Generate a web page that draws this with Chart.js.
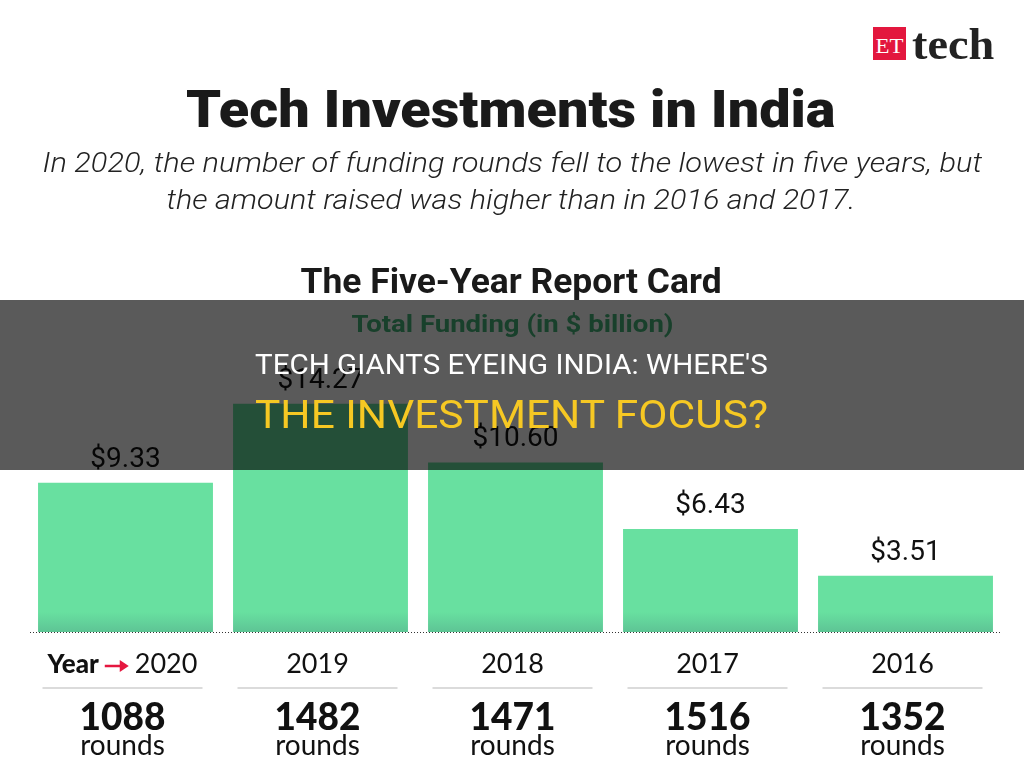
<!DOCTYPE html>
<html>
<head>
<meta charset="utf-8">
<script src="https://cdn.jsdelivr.net/npm/chart.js@4.4.1/dist/chart.umd.min.js"></script>
<style>
  html, body { margin: 0; padding: 0; background: #fff; }
  #page { position: relative; width: 1024px; height: 767px; overflow: hidden; background: #fff; }
  #grafico { position: absolute; left: 0; top: 0; }
  .txt { position: absolute; white-space: nowrap; line-height: 1; transform-origin: 50% 50%; }
  #band { position: absolute; left: 0; top: 300px; width: 1024px; height: 170px; background: rgba(0,0,0,0.647); z-index: 5; }
  .over { z-index: 6; }
  #logoBox { position: absolute; left: 873px; top: 27px; width: 33px; height: 33px; background: #e3173e; z-index: 2; }
</style>
</head>
<body>
<div id="page">
  <canvas id="grafico" width="1024" height="767"></canvas>

  <div id="logoBox"></div>
  <div class="txt" data-cx="889" data-w="28" data-base="53" data-asc="0.891" style="font: 22px 'Liberation Serif'; color:#fff; z-index:3;">ET</div>
  <div class="txt" data-cx="953" data-w="82" data-base="58" data-asc="0.891" style="font: bold 44px 'Liberation Serif'; color:#222; z-index:3;">tech</div>

  <div class="txt" data-cx="511" data-w="650" data-base="123" data-asc="0.842" style="font: 900 52px Roboto; color:#1a1a1a;">Tech Investments in India</div>
  <div class="txt" data-cx="512" data-w="940" data-base="170" data-asc="0.842" style="font: italic 300 28px Roboto; color:#222;">In 2020, the number of funding rounds fell to the lowest in five years, but</div>
  <div class="txt" data-cx="511" data-w="689" data-base="207" data-asc="0.842" style="font: italic 300 28px Roboto; color:#222;">the amount raised was higher than in 2016 and 2017.</div>
  <div class="txt" data-cx="511" data-w="421" data-base="290" data-asc="0.842" style="font: 700 35px Roboto; color:#1a1a1a;">The Five-Year Report Card</div>
  <div class="txt" data-cx="512" data-w="322" data-base="330" data-asc="0.842" style="font: 700 23px Roboto; color:#46b57a;">Total Funding (in $ billion)</div>

  <div id="band"></div>
  <div class="txt over" data-cx="511" data-w="513" data-base="372" data-asc="0.842" style="font: 400 27px Roboto; color:#fff;">TECH GIANTS EYEING INDIA: WHERE'S</div>
  <div class="txt over" data-cx="511" data-w="513" data-base="425" data-asc="0.842" style="font: 400 38px Roboto; color:#f6c823;">THE INVESTMENT FOCUS?</div>
</div>

<script>
// datos
const anios = ['2020', '2019', '2018', '2017', '2016'];
const fondos = [9.33, 14.27, 10.60, 6.43, 3.51];
const etiquetasFondos = ['$9.33', '$14.27', '$10.60', '$6.43', '$3.51'];
const rondas = ['1088', '1482', '1471', '1516', '1352'];
const textoRondas = 'rounds';

// colocar textos html: centro, ancho y linea base
document.querySelectorAll('.txt').forEach(el => {
    const cx = parseFloat(el.dataset.cx);
    const w = parseFloat(el.dataset.w);
    const base = parseFloat(el.dataset.base);
    const asc = parseFloat(el.dataset.asc);
    const size = parseFloat(getComputedStyle(el).fontSize);
    const natural = el.offsetWidth;
    el.style.left = (cx - natural / 2) + 'px';
    el.style.top = (base - asc * size) + 'px';
    el.style.transform = 'scaleX(' + (w / natural) + ')';
});

const verde = '#68e0a0';

// plugin para etiquetas, linea punteada y filas de abajo
const pluginTarjeta = {
    id: 'tarjeta',
    afterDatasetsDraw(chart) {
        const ctx = chart.ctx;
        const meta = chart.getDatasetMeta(0);
        ctx.save();
        ctx.font = '400 28px Roboto';
        ctx.fillStyle = '#111';
        ctx.textAlign = 'center';
        ctx.textBaseline = 'alphabetic';
        meta.data.forEach((bar, i) => {
            ctx.fillText(etiquetasFondos[i], bar.x, bar.y - 16);
        });
        ctx.restore();
    },
    afterDraw(chart) {
        const ctx = chart.ctx;
        const area = chart.chartArea;
        const xScale = chart.scales.x;
        ctx.save();

        // linea base punteada
        ctx.strokeStyle = '#333';
        ctx.lineWidth = 1;
        ctx.setLineDash([1, 2]);
        ctx.beginPath();
        ctx.moveTo(area.left + 2, area.bottom + 0.5);
        ctx.lineTo(area.right - 3, area.bottom + 0.5);
        ctx.stroke();
        ctx.setLineDash([]);

        anios.forEach((anio, i) => {
            const cx = xScale.getPixelForValue(i) - 3;

            // anio
            ctx.textBaseline = 'alphabetic';
            ctx.fillStyle = '#111';
            if (i === 0) {
                ctx.font = '900 26px Lato';
                const wYear = ctx.measureText('Year').width;
                ctx.font = '400 27px Lato';
                const wAnio = ctx.measureText(anio).width;
                const wFlecha = 24, gap = 6;
                const total = wYear + gap + wFlecha + gap + wAnio;
                let x = cx - total / 2;
                ctx.textAlign = 'left';
                ctx.font = '900 26px Lato';
                ctx.fillText('Year', x, 673);
                x += wYear + gap;
                // flecha roja
                ctx.strokeStyle = '#e5173f';
                ctx.fillStyle = '#e5173f';
                ctx.lineWidth = 2.5;
                ctx.beginPath();
                ctx.moveTo(x, 666);
                ctx.lineTo(x + wFlecha - 7, 666);
                ctx.stroke();
                ctx.beginPath();
                ctx.moveTo(x + wFlecha, 666);
                ctx.lineTo(x + wFlecha - 9, 660);
                ctx.lineTo(x + wFlecha - 9, 672);
                ctx.closePath();
                ctx.fill();
                x += wFlecha + gap;
                ctx.fillStyle = '#111';
                ctx.font = '400 27px Lato';
                ctx.fillText(anio, x, 673);
            } else {
                ctx.textAlign = 'center';
                ctx.font = '400 27px Lato';
                ctx.fillText(anio, cx, 673);
            }

            // separador gris
            ctx.strokeStyle = '#cfcfcf';
            ctx.lineWidth = 1.5;
            ctx.beginPath();
            ctx.moveTo(cx - 80, 688);
            ctx.lineTo(cx + 80, 688);
            ctx.stroke();

            // rondas
            ctx.textAlign = 'center';
            ctx.fillStyle = '#111';
            ctx.font = '900 37px Lato';
            ctx.fillText(rondas[i], cx, 730);
            ctx.font = '400 28px Lato';
            ctx.fillText(textoRondas, cx, 755);
        });
        ctx.restore();
    }
};

const ctx = document.getElementById('grafico').getContext('2d');
const grafico = new Chart(ctx, {
    type: 'bar',
    data: {
        labels: anios,
        datasets: [{
            label: 'Total Funding (in $ billion)',
            data: fondos,
            backgroundColor: (c) => {
                const area = c.chart.chartArea;
                if (!area) return verde;
                const g = c.chart.ctx.createLinearGradient(0, area.bottom - 20, 0, area.bottom);
                g.addColorStop(0, verde);
                g.addColorStop(1, '#5ec495');
                return g;
            },
            borderWidth: 0,
            barPercentage: 0.897,
            categoryPercentage: 1
        }]
    },
    options: {
        responsive: false,
        animation: false,
        layout: { padding: { left: 28, right: 21, top: 376, bottom: 135 } },
        scales: {
            x: { display: false },
            y: { display: false, min: 0, max: 16 }
        },
        plugins: {
            legend: { display: false },
            tooltip: { enabled: false }
        }
    },
    plugins: [pluginTarjeta]
});
</script>
</body>
</html>
